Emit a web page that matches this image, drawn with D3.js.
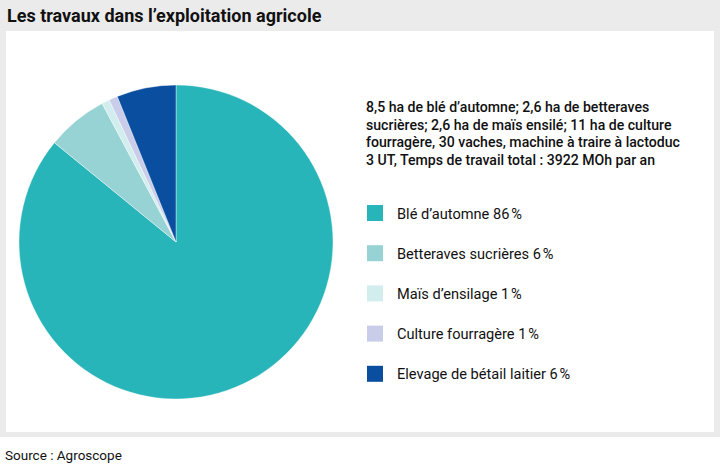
<!DOCTYPE html>
<html><head><meta charset="utf-8">
<script src="https://cdn.jsdelivr.net/npm/d3@7"></script>
<style>body{margin:0;background:#fff;} svg{display:block;}</style>
</head><body>
<svg id="c" width="720" height="470"></svg>
<script>
const categories = ["Blé d’automne", "Betteraves sucrières", "Maïs d’ensilage", "Culture fourragère", "Elevage de bétail laitier"];
const values = [85.9, 6.3, 0.8, 0.9, 6.1];
const labels = ["86\u202F%", "6\u202F%", "1\u202F%", "1\u202F%", "6\u202F%"];
const colors = ["#27b5b9", "#97d2d4", "#d2eded", "#c9cde9", "#0a4e9f"];
const title = "Les travaux dans l’exploitation agricole";
const note = ["8,5 ha de blé d’automne; 2,6 ha de betteraves", "sucrières; 2,6 ha de maïs ensilé; 11 ha de culture", "fourragère, 30 vaches, machine à traire à lactoduc", "3 UT, Temps de travail total : 3922 MOh par an"];
const source = "Source : Agroscope";

const svg = d3.select("#c");
const font = "Roboto, 'Open Sans', sans-serif";
svg.append("rect").attr("x",0).attr("y",0).attr("width",720).attr("height",437).attr("fill","#ebebeb");
svg.append("rect").attr("x",6).attr("y",31).attr("width",708).attr("height",401).attr("fill","#fff");
svg.append("text").attr("x",7).attr("y",22).text(title).attr("font-family",font).attr("font-weight","bold").attr("font-size",18).attr("fill","#111");
svg.append("text").attr("x",5).attr("y",460).text(source).attr("font-family",font).attr("font-size",13.5).attr("fill","#111");

const pie = d3.pie().sort(null).value(d=>d)(values);
const arc = d3.arc().innerRadius(0).outerRadius(157);
const g = svg.append("g").attr("transform","translate(176,242)");
g.selectAll("path").data(pie).join("path").attr("d",arc).attr("fill",(d,i)=>colors[i]).attr("stroke","#fff").attr("stroke-width",0.4);

const t = svg.append("text").attr("font-family",font).attr("font-weight","500").attr("font-size",14.1).attr("fill","#111");
note.forEach((l,i)=>t.append("tspan").attr("x",366).attr("y",112+i*17.5).text(l));

const lg = svg.append("g");
categories.forEach((c,i)=>{
  const y = 213 + i*40.2;
  lg.append("rect").attr("x",367).attr("y",y-8).attr("width",16).attr("height",16).attr("fill",colors[i]);
  lg.append("text").attr("x",397).attr("y",y+5.5).text(c+" "+labels[i]).attr("font-family",font).attr("font-size",14.6).attr("fill","#111");
});
</script>
</body></html>
